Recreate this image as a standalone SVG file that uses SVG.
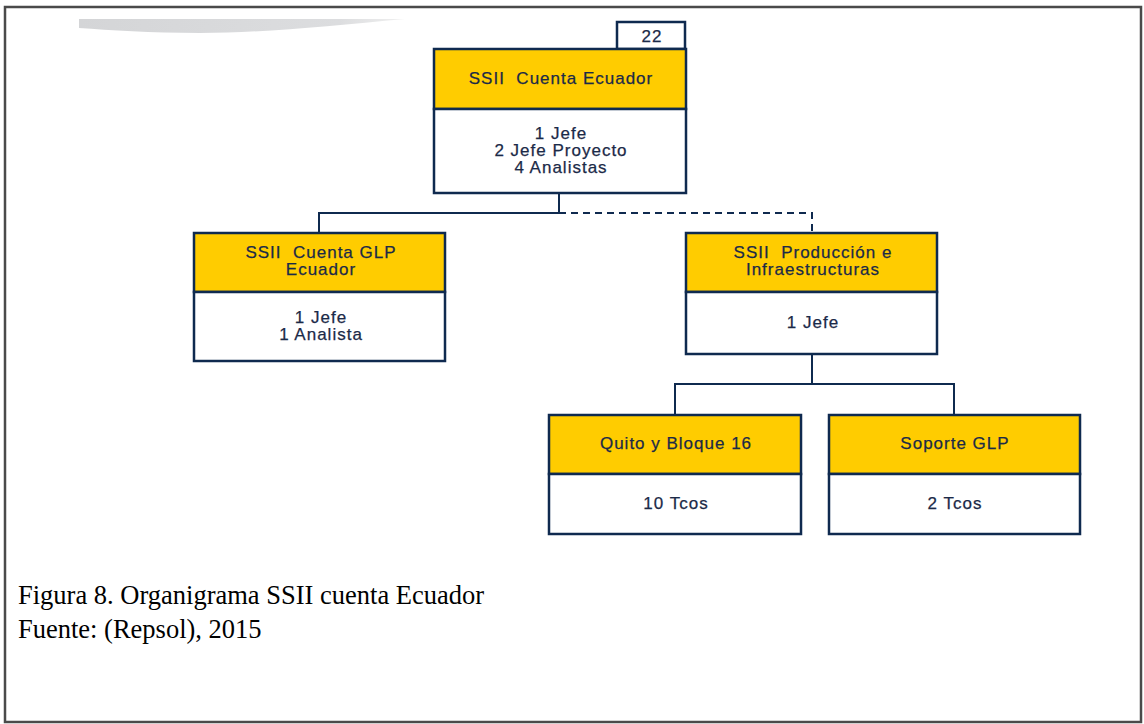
<svg xmlns="http://www.w3.org/2000/svg" width="1144" height="724" viewBox="0 0 1144 724">
<style>
.hd{fill:#FFCC00;stroke:#0F2A4F;stroke-width:2.5}
.bd{fill:#FFFFFF;stroke:#0F2A4F;stroke-width:2.5}
.t{font-family:"Liberation Sans",Arial,sans-serif;font-size:17px;letter-spacing:1px;fill:#1B2A48;stroke:#1B2A48;stroke-width:0.25;text-anchor:middle;white-space:pre}
.c{fill:none;stroke:#0F2A4F;stroke-width:2}
.cap{font-family:"Liberation Serif","Times New Roman",serif;font-size:26.5px;fill:#000}
</style>
<defs>
<linearGradient id="sw" x1="0" y1="0" x2="1" y2="0">
<stop offset="0" stop-color="#D4D5D7"/>
<stop offset="0.8" stop-color="#DCDDDF"/>
<stop offset="1" stop-color="#F0F0F0"/>
</linearGradient>
</defs>
<rect x="5" y="7" width="1136" height="715" fill="#FFFFFF" stroke="#4A4A4A" stroke-width="2.5"/>
<path d="M79,19 L405,19 C330,26 260,33 200,33 C150,33 110,30 79,28 Z" fill="url(#sw)"/>
<g id="connectors">
<path class="c" d="M559,193 V213 H319 V233"/>
<path class="c" d="M559,213 H812 V233" stroke-dasharray="7,5"/>
<path class="c" d="M812,354 V384 H675 V415"/>
<path class="c" d="M812,384 H954 V415"/>
</g>
<g id="n22">
<rect class="bd" x="617" y="22" width="68" height="27"/>
<text class="t" x="652" y="42">22</text>
</g>
<g id="n-ecuador">
<rect class="hd" x="434" y="49" width="252" height="60"/>
<rect class="bd" x="434" y="109" width="252" height="84"/>
<text class="t" x="561" y="84">SSII  Cuenta Ecuador</text>
<text class="t" x="561" y="139">1 Jefe</text>
<text class="t" x="561" y="156">2 Jefe Proyecto</text>
<text class="t" x="561" y="173">4 Analistas</text>
</g>
<g id="n-glp">
<rect class="hd" x="194" y="233" width="251" height="59"/>
<rect class="bd" x="194" y="292" width="251" height="69"/>
<text class="t" x="321" y="258">SSII  Cuenta GLP</text>
<text class="t" x="321" y="275">Ecuador</text>
<text class="t" x="321" y="323">1 Jefe</text>
<text class="t" x="321" y="340">1 Analista</text>
</g>
<g id="n-prod">
<rect class="hd" x="686" y="233" width="251" height="59"/>
<rect class="bd" x="686" y="292" width="251" height="62"/>
<text class="t" x="813" y="258">SSII  Producción e</text>
<text class="t" x="813" y="275">Infraestructuras</text>
<text class="t" x="813" y="328">1 Jefe</text>
</g>
<g id="n-quito">
<rect class="hd" x="549" y="415" width="252" height="59"/>
<rect class="bd" x="549" y="474" width="252" height="60"/>
<text class="t" x="676" y="449">Quito y Bloque 16</text>
<text class="t" x="676" y="509">10 Tcos</text>
</g>
<g id="n-soporte">
<rect class="hd" x="829" y="415" width="251" height="59"/>
<rect class="bd" x="829" y="474" width="251" height="60"/>
<text class="t" x="955" y="449">Soporte GLP</text>
<text class="t" x="955" y="509">2 Tcos</text>
</g>
<text class="cap" x="18" y="604">Figura 8. Organigrama SSII cuenta Ecuador</text>
<text class="cap" x="18" y="638">Fuente: (Repsol), 2015</text>
</svg>
